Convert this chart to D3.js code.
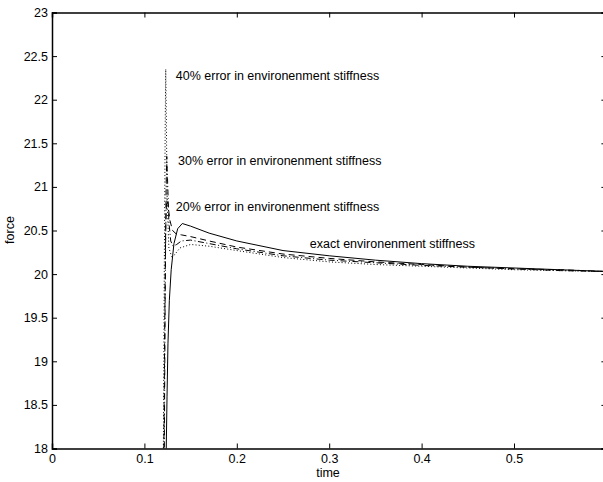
<!DOCTYPE html>
<html><head><meta charset="utf-8">
<script src="https://cdn.jsdelivr.net/npm/d3@7"></script>
<style>
body{margin:0;background:#fff;}
text{font-family:"Liberation Sans",Arial,Helvetica,sans-serif;}
</style></head>
<body><svg id="c" width="603" height="482"></svg>
<script>
// ---- data ----
const xTicks = [0, 0.1, 0.2, 0.3, 0.4, 0.5];
const yTicks = [18, 18.5, 19, 19.5, 20, 20.5, 21, 21.5, 22, 22.5, 23];
const exactT = [0.1225,0.1235,0.1245,0.1255,0.127,0.129,0.132,0.136,0.141,0.150,0.170,0.200,0.250,0.300,0.350,0.400,0.450,0.500,0.550,0.600];
const exactF = [16.5,17.9,18.6,19.2,19.7,20.05,20.35,20.52,20.58,20.55,20.47,20.38,20.27,20.21,20.16,20.12,20.09,20.07,20.05,20.03];
const err20T = [0.1200,0.1210,0.1220,0.1230,0.1240,0.1255,0.1275,0.1305,0.1345,0.1400,0.1500,0.1700,0.2000,0.2500,0.3000,0.3500,0.4000,0.4500,0.5000,0.5500,0.6000];
const err20F = [16.5,17.9,19.4,20.5,20.85,20.8,20.62,20.5,20.46,20.45,20.43,20.38,20.31,20.23,20.18,20.14,20.11,20.08,20.06,20.05,20.03];
const err30T = [0.1205,0.1215,0.1225,0.1235,0.1242,0.1250,0.1265,0.1285,0.1310,0.1350,0.1400,0.1500,0.1700,0.2000,0.2500,0.3000,0.3500,0.4000,0.4500,0.5000,0.5500,0.6000];
const err30F = [16.5,17.9,19.8,21.0,21.35,21.1,20.6,20.38,20.32,20.34,20.38,20.39,20.35,20.29,20.21,20.16,20.13,20.10,20.08,20.06,20.04,20.03];
const err40T = [0.1195,0.1205,0.1215,0.1225,0.1231,0.1237,0.1247,0.1265,0.1295,0.1325,0.1385,0.1500,0.1700,0.2000,0.2500,0.3000,0.3500,0.4000,0.4500,0.5000,0.5500,0.6000];
const err40F = [16.5,17.9,20.0,21.7,22.35,21.8,20.8,20.3,20.2,20.22,20.3,20.34,20.32,20.27,20.19,20.14,20.11,20.09,20.07,20.05,20.04,20.03];
const labels = ["40% error in environenment stiffness","30% error in environenment stiffness","20% error in environenment stiffness","exact environenment stiffness"];
const labelT = [0.134, 0.1364, 0.134, 0.279];
const labelF = [22.28, 21.30, 20.77, 20.355];

// ---- scales ----
const svg = d3.select("#c");
const x = d3.scaleLinear().domain([0, 0.6]).range([52, 606.4]);
const y = d3.scaleLinear().domain([18, 23]).range([448.5, 12.5]);

svg.append("defs").append("clipPath").attr("id","clip")
  .append("rect").attr("x",52).attr("y",12.5).attr("width",554.4).attr("height",436);

const line = d3.line().x(d=>x(d[0])).y(d=>y(d[1]));
const series = [
  {t:err40T, f:err40F, dash:"1,2.2"},
  {t:err30T, f:err30F, dash:"6,2.5,1,2.5"},
  {t:err20T, f:err20F, dash:"6,4"},
  {t:exactT, f:exactF, dash:null}
];
const g = svg.append("g").attr("clip-path","url(#clip)");
series.forEach(s=>{
  g.append("path").datum(s.t.map((t,i)=>[t,s.f[i]]))
   .attr("d", line).attr("fill","none").attr("stroke","#000")
   .attr("stroke-width",1).attr("stroke-dasharray", s.dash);
});

// ---- axes (box with inward ticks) ----
const fmt = d=>String(d);
const tl = 5;
svg.append("g").attr("transform",`translate(0,${y(18)})`)
  .call(d3.axisBottom(x).tickValues(xTicks).tickSize(-tl).tickPadding(6).tickFormat(fmt));
svg.append("g").attr("transform",`translate(0,${y(23)})`)
  .call(d3.axisTop(x).tickValues(xTicks).tickSize(-tl).tickFormat(""));
svg.append("g").attr("transform",`translate(${x(0)},0)`)
  .call(d3.axisLeft(y).tickValues(yTicks).tickSize(-tl).tickPadding(4).tickFormat(fmt));
svg.append("g").attr("transform",`translate(${x(0.6)},0)`)
  .call(d3.axisRight(y).tickValues(yTicks).tickSize(-tl).tickFormat(""));
svg.selectAll(".domain").attr("stroke","#000").attr("stroke-width",1.5);
svg.selectAll(".tick line").attr("stroke","#000");
svg.selectAll(".tick text").attr("font-size",12.5).attr("fill","#000")
  .attr("font-family","Liberation Sans, Arial, sans-serif");

svg.append("text").attr("x",328).attr("y",477)
  .attr("text-anchor","middle").attr("font-size",12.5).text("time");
svg.append("text").attr("transform","translate(14,230) rotate(-90)")
  .attr("text-anchor","middle").attr("font-size",12.5).text("force");

labels.forEach((l,i)=>{
  svg.append("text").attr("x",x(labelT[i])).attr("y",y(labelF[i]))
    .attr("dy","0.35em").attr("font-size",12.5).text(l);
});
</script></body></html>
